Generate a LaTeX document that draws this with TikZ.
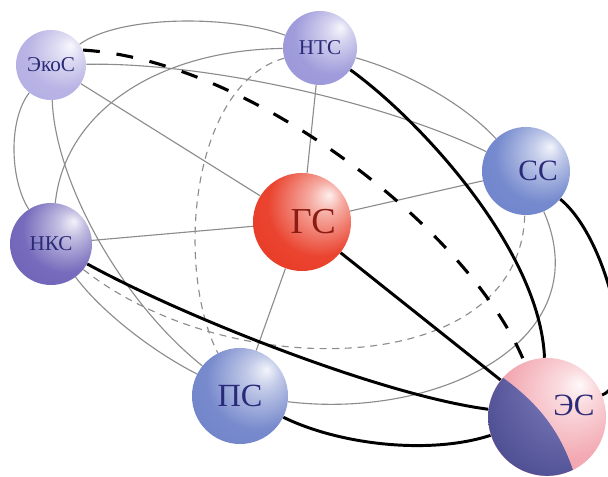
\documentclass[tikz,border=0pt]{standalone}
\usepackage{fontspec}
\setmainfont{Liberation Serif}

\definecolor{ecocol}{HTML}{B2ADE2}
\definecolor{ntscol}{HTML}{9894D8}
\definecolor{sscol}{HTML}{6A80CA}
\definecolor{gscol}{HTML}{E8341E}
\definecolor{nkscol}{HTML}{6A5EB6}
\definecolor{pscol}{HTML}{6C80C8}
\definecolor{escol}{HTML}{F2A2AC}
\definecolor{navydark}{HTML}{1E1E66}
\definecolor{navylight}{HTML}{8A8ACA}
\definecolor{labelblue}{HTML}{2A2A78}
\definecolor{labelred}{HTML}{8A1C14}
\definecolor{linegray}{HTML}{8C8C8C}

\colorlet{spherecol}{gray}
\pgfdeclareradialshading[spherecol]{sphere}{\pgfpoint{14bp}{14bp}}{%
  color(0bp)=(spherecol!8!white); color(8bp)=(spherecol!40!white);
  color(26bp)=(spherecol!92!white); color(46bp)=(spherecol);
  color(66bp)=(spherecol!68!black)}
\pgfdeclareradialshading{navyshade}{\pgfpoint{30bp}{30bp}}{%
  color(0bp)=(navylight); color(18bp)=(navylight!75!navydark);
  color(45bp)=(navydark!70!navylight); color(75bp)=(navydark)}

\pgfdeclarelayer{bg}
\pgfsetlayers{bg,main}

\tikzset{
  sphere/.style={circle, inner sep=0pt, shade, shading=sphere,
    /utils/exec={\colorlet{spherecol}{#1}}, text=labelblue},
  thinline/.style={draw=linegray, line width=0.8pt},
  thindash/.style={draw=linegray, line width=0.8pt, dash pattern=on 5pt off 4pt},
  thickline/.style={draw=black, line width=2.1pt},
  thickdash/.style={draw=black, line width=2.2pt, dash pattern=on 12pt off 12pt},
}

\begin{document}
\begin{tikzpicture}[x=0.025cm, y=-0.025cm]
    \useasboundingbox (0,0) rectangle (608,477);
    \providecommand{\smallsize}{\fontsize{15}{15}\selectfont}
    % spheres
    \node[sphere=ecocol, minimum size=1.75cm, font=\smallsize] (eco) at (51,65) {ЭкоС};
    \node[sphere=ntscol, minimum size=1.85cm, font=\smallsize] (nts) at (320,48) {НТС};
    \node[sphere=sscol, minimum size=2.2cm,
      label={[text=labelblue, font=\fontsize{21}{21}\selectfont, xshift=0.3cm]center:СС}] (ss) at (526,171) {};
    \node[sphere=gscol, minimum size=2.45cm,
      label={[text=labelred, font=\fontsize{26}{26}\selectfont, xshift=0.28cm]center:ГС}] (gs) at (302,222) {};
    \node[sphere=nkscol, minimum size=2.05cm, font=\smallsize] (nks) at (51,244) {НКС};
    \node[sphere=pscol, minimum size=2.4cm, font=\fontsize{23}{23}\selectfont] (ps) at (240,396) {ПС};
    \node[sphere=escol, minimum size=2.95cm] (es) at (547,417) {};
    \begin{scope}
        \clip (es.center) circle[radius=1.47cm];
        \shade[shading=navyshade]
          (495,372) .. controls (535,400) and (565,430) .. (580,495) -- (470,495) -- (470,372) -- cycle;
    \end{scope}
    \node[text=labelblue, font=\fontsize{22}{22}\selectfont] (eslabel) at (574,405) {ЭС};

    \begin{pgfonlayer}{bg}
        \clip (0,0) rectangle (608,477);
        \draw[thinline] (eco) .. controls (120,15) and (230,15) .. (nts);
        \draw[thinline] (nts) .. controls (400,70) and (460,100) .. (ss);
        \draw[thinline] (eco) .. controls (200,62) and (380,100) .. (ss);
        \draw[thinline] (nks) .. controls (65,110) and (160,50) .. (nts);
        \draw[thinline] (eco) .. controls (8,120) and (10,180) .. (nks);
        \draw[thinline] (eco) .. controls (55,180) and (120,300) .. (ps);
        \draw[thinline] (nks) .. controls (100,310) and (150,350) .. (ps);
        \draw[thinline] (ps) .. controls (440,420) and (600,340) .. (ss);
        \foreach \n in {eco,nts,ss,nks,ps}
            \draw[thinline] (gs) -- (\n);
        \draw[thindash] (nts) .. controls (190,85) and (175,270) .. (ps);
        \draw[thindash] (nks) .. controls (230,385) and (520,380) .. (ss);
        % thick arcs into ES
        \draw[thickdash] (eco.25) .. controls (250,60) and (470,230) .. (es);
        \draw[thickline] (nts) .. controls (420,120) and (540,250) .. (es);
        \draw[thickline] (ss) .. controls (610,240) and (640,380) .. (es);
        \draw[thickline] (nks) .. controls (180,315) and (380,395) .. (es);
        \draw[thickline] (ps) .. controls (340,445) and (430,455) .. (es);
        \draw[thickline] (gs) -- (es);
    \end{pgfonlayer}
\end{tikzpicture}
\end{document}
